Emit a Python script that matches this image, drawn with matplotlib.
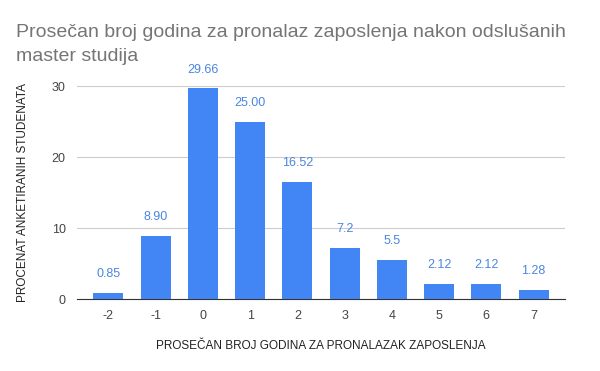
import matplotlib
matplotlib.use("Agg")
import matplotlib.pyplot as plt

plt.rcParams['font.family'] = ['Liberation Sans', 'DejaVu Sans']
plt.rcParams['axes.unicode_minus'] = False

godine = [-2, -1, 0, 1, 2, 3, 4, 5, 6, 7]
procenat = [0.85, 8.90, 29.66, 25.00, 16.52, 7.2, 5.5, 2.12, 2.12, 1.28]
oznake = ["0.85", "8.90", "29.66", "25.00", "16.52", "7.2", "5.5", "2.12", "2.12", "1.28"]

fig = plt.figure(figsize=(6, 3.71), dpi=100)
ax = fig.add_axes([0.128, 0.194, 0.814, 0.574])

bars = ax.bar(godine, procenat, width=0.635, color="#4285F4", zorder=3)
for b, t in zip(bars, oznake):
    ax.annotate(t, (b.get_x() + b.get_width() / 2, b.get_height()),
                xytext=(0, 9), textcoords="offset points", ha="center", va="bottom",
                fontsize=9, color="#4a86e0")

ax.set_xlim(-2.67, 7.67)
ax.set_ylim(0, 30)
ax.set_yticks([0, 10, 20, 30])
ax.set_xticks(godine)
ax.grid(axis="y", color="#cccccc", linewidth=0.8, zorder=0)
for s in ["top", "right", "left"]:
    ax.spines[s].set_visible(False)
ax.spines["bottom"].set_color("#333333")
ax.tick_params(length=0, labelsize=9, colors="#444444", pad=8)

ax.set_xlabel("PROSEČAN BROJ GODINA ZA PRONALAZAK ZAPOSLENJA", fontsize=8.5,
              color="#222222", labelpad=13)
ax.set_ylabel("PROCENAT ANKETIRANIH STUDENATA", fontsize=8.5, color="#222222",
              labelpad=16)

fig.text(0.027, 0.935, "Prosečan broj godina za pronalaz zaposlenja nakon odslušanih\nmaster studija",
         fontsize=14, color="#757575", ha="left", va="top", linespacing=1.5)

fig.savefig("out.png", dpi=100)
